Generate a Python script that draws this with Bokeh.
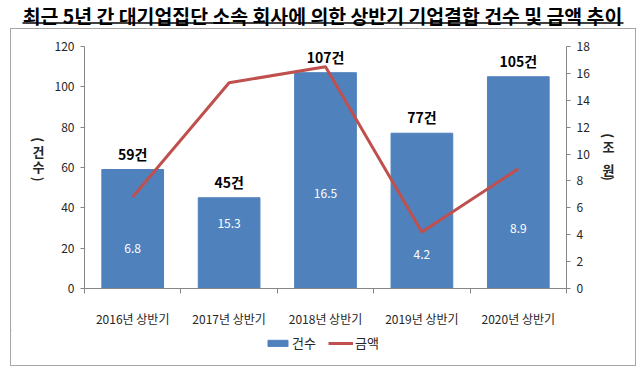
import math
from bokeh.plotting import figure
from bokeh.layouts import column, row
from bokeh.models import (Range1d, LinearAxis, FixedTicker, Legend, LegendItem,
                          ColumnDataSource, Spacer)
from bokeh.embed import file_html
from bokeh.resources import INLINE
from bokeh.core.properties import value

# ---- data ----
title_text = "최근 5년 간 대기업집단 소속 회사에 의한 상반기 기업결합 건수 및 금액 추이"
periods = ["2016년 상반기", "2017년 상반기", "2018년 상반기", "2019년 상반기", "2020년 상반기"]
counts = [59, 45, 107, 77, 105]          # 건수
amounts = [6.8, 15.3, 16.5, 4.2, 8.9]    # 금액 (조원)
count_labels = ["59건", "45건", "107건", "77건", "105건"]
amount_labels = ["6.8", "15.3", "16.5", "4.2", "8.9"]
amount_label_y = [20, 32, 47, 17, 30]    # where the white value labels sit (count scale)
left_ticks = [0, 20, 40, 60, 80, 100, 120]
right_ticks = [0, 2, 4, 6, 8, 10, 12, 14, 16, 18]
left_title_chars = ["(", "건", "수", ")"]
right_title_chars = ["(", "조", "원", ")"]
legend_labels = ["건수", "금액"]

FONT = "Noto Sans CJK KR"
BAR = "#4F81BD"
LINE = "#C0504D"
TXT = "#262626"
AX = "#868686"


def bare(w, h):
    f = figure(width=w, height=h, output_backend="svg", toolbar_location=None,
               x_range=Range1d(0, w), y_range=Range1d(h, 0),
               min_border=0, x_axis_type=None, y_axis_type=None)
    f.outline_line_color = None
    f.grid.visible = False
    f.background_fill_color = "white"
    f.border_fill_color = "white"
    return f


# ---- title ----
tf = bare(638, 28)
tf.text(x=[322], y=[0], text=[title_text], text_align="center", text_baseline="top",
        text_font=value(FONT), text_font_size="19.4px", text_font_style="bold",
        text_color="#000000")
tf.segment(x0=[22], y0=[22.5], x1=[623], y1=[22.5], line_color="#000000", line_width=1.5)

# ---- main chart ----
xc = [i + 0.5 for i in range(len(periods))]
src = ColumnDataSource(dict(x=xc, counts=counts, amounts=amounts, clab=count_labels,
                            alab=amount_labels, aly=amount_label_y))

p = figure(width=543, height=301, output_backend="svg", toolbar_location=None,
           x_range=Range1d(0, 5), y_range=Range1d(0, 120),
           min_border_left=35, min_border_right=26, min_border_top=17, min_border_bottom=42)
p.outline_line_color = None
p.xgrid.visible = False
p.ygrid.visible = False
p.background_fill_color = "white"
p.border_fill_color = "white"
p.extra_y_ranges = {"amt": Range1d(0, 18)}

bars = p.vbar(x="x", top="counts", width=0.64, source=src, fill_color=BAR, line_color=BAR)
ln = p.line(x="x", y="amounts", source=src, y_range_name="amt", line_color=LINE, line_width=3)

p.text(x="x", y="counts", text="clab", source=src, text_align="center", text_baseline="bottom",
       y_offset=-6, text_font=value(FONT), text_font_size="14px", text_font_style="bold",
       text_color="#000000")
p.text(x="x", y="aly", text="alab", source=src, text_align="center", text_baseline="middle",
       text_font=value(FONT), text_font_size="12px", text_color="white")

xa = p.xaxis[0]
xa.ticker = FixedTicker(ticks=xc, minor_ticks=[0, 1, 2, 3, 4, 5])
xa.major_label_overrides = {x: lab for x, lab in zip(xc, periods)}
xa.major_tick_line_color = None
xa.major_tick_out = 0
xa.minor_tick_out = 5
xa.minor_tick_in = 0
xa.minor_tick_line_color = AX
xa.axis_line_color = AX
xa.major_label_standoff = 16
xa.major_label_text_font = FONT
xa.major_label_text_font_size = "12px"
xa.major_label_text_color = TXT

ya = p.yaxis[0]
ya.ticker = FixedTicker(ticks=left_ticks)
ya.minor_tick_line_color = None
ya.major_tick_out = 4
ya.major_tick_in = 0
ya.major_tick_line_color = AX
ya.axis_line_color = AX
ya.major_label_standoff = 6
ya.major_label_text_font = FONT
ya.major_label_text_font_size = "12px"
ya.major_label_text_color = TXT

ra = LinearAxis(y_range_name="amt", ticker=FixedTicker(ticks=right_ticks))
ra.minor_tick_line_color = None
ra.major_tick_out = 4
ra.major_tick_in = 0
ra.major_tick_line_color = AX
ra.axis_line_color = AX
ra.major_label_standoff = 6
ra.major_label_text_font = FONT
ra.major_label_text_font_size = "12px"
ra.major_label_text_color = TXT
p.add_layout(ra, "right")

# ---- stacked axis titles ----
def stacked(w, h, chars, xs, ys):
    f = bare(w, h)
    angles = [-math.pi / 2 if c in "()" else 0 for c in chars]
    f.text(x=[xs] * len(chars), y=ys, text=chars, angle=angles, text_align="center",
           text_baseline="middle", text_font=value(FONT), text_font_size="13px",
           text_font_style="bold", text_color=TXT)
    return f

lf = stacked(38, 301, left_title_chars, 27, [116, 131, 149, 165])
rf = stacked(43, 301, right_title_chars, 16, [111, 124, 153, 164])

# ---- legend ----
gf = bare(624, 35)
lb = gf.vbar(x=[-100], top=[-100], width=1, fill_color=BAR, line_color=BAR)
ll = gf.line(x=[-100, -99], y=[-100, -100], line_color=LINE, line_width=3)
legend = Legend(items=[LegendItem(label=legend_labels[0], renderers=[lb]),
                       LegendItem(label=legend_labels[1], renderers=[ll])],
                orientation="horizontal", location=(254, 13),
                label_text_font=FONT, label_text_font_size="13px", label_text_color=TXT,
                glyph_width=25, glyph_height=8, label_height=14, label_standoff=2,
                spacing=12, border_line_color=None, background_fill_alpha=0,
                padding=0, margin=0)
gf.add_layout(legend)

body = column(row(lf, p, rf), gf, styles={"border": "1px solid #A6A6A6"})
layout = column(tf, row(Spacer(width=10, height=10), body), spacing=0)

open("out.html", "w").write(file_html(layout, INLINE))
